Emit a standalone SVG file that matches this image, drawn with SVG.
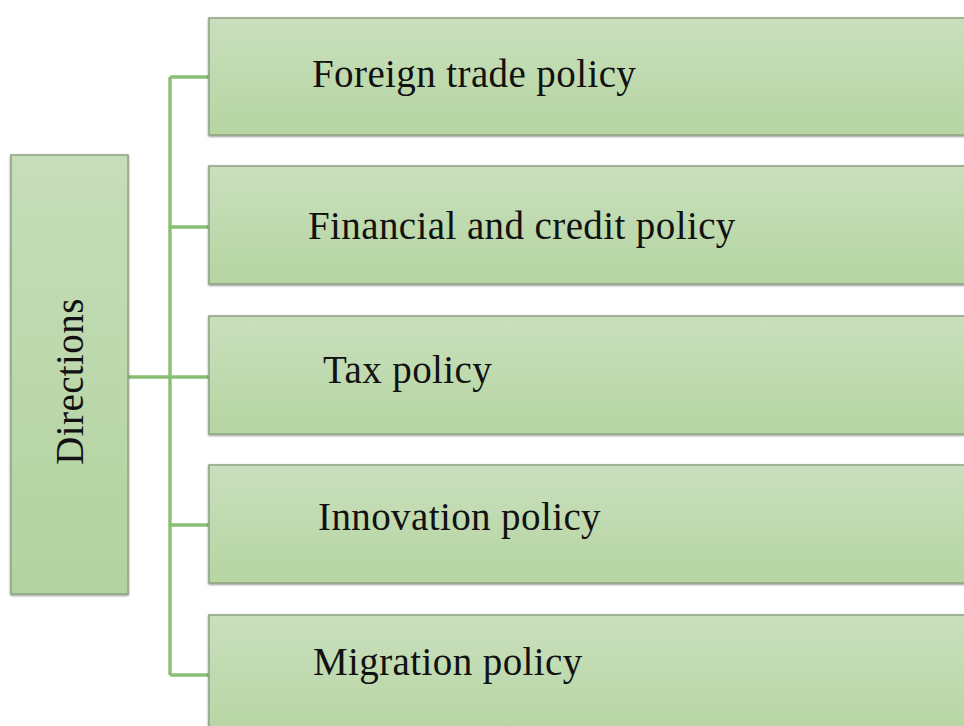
<svg xmlns="http://www.w3.org/2000/svg" width="964" height="726" viewBox="0 0 964 726">
  <defs>
    <linearGradient id="boxFill" x1="0" y1="0" x2="0" y2="1">
      <stop offset="0" stop-color="#c9dfbd"/>
      <stop offset="1" stop-color="#b5d5a1"/>
    </linearGradient>
    <linearGradient id="rootFill" x1="0" y1="0" x2="0" y2="1">
      <stop offset="0" stop-color="#c6ddb9"/>
      <stop offset="1" stop-color="#b2d39e"/>
    </linearGradient>
    <filter id="shade" x="-5%" y="-5%" width="110%" height="110%">
      <feGaussianBlur in="SourceAlpha" stdDeviation="1.2"/>
      <feOffset dx="0" dy="0.5" result="b"/>
      <feComponentTransfer><feFuncA type="linear" slope="0.45"/></feComponentTransfer>
      <feMerge><feMergeNode/><feMergeNode in="SourceGraphic"/></feMerge>
    </filter>
  </defs>
  <style>
    .box { fill: url(#boxFill); stroke: #8ea383; stroke-width: 1.5; filter: url(#shade); }
    .root { fill: url(#rootFill); stroke: #8ea383; stroke-width: 1.5; filter: url(#shade); }
    .label { font-family: "Liberation Serif", "Times New Roman", serif; font-size: 39px; letter-spacing: 0.4px; fill: #111; }
    .wire { fill: none; stroke: #88bf73; stroke-width: 3.4; }
  </style>
  <rect width="964" height="726" fill="#ffffff"/>

  <g id="connectors">
    <path class="wire" d="M128 377 H170"/>
    <path class="wire" d="M170 77 V675"/>
    <path class="wire" d="M170 77 H209"/>
    <path class="wire" d="M170 227 H209"/>
    <path class="wire" d="M170 377 H209"/>
    <path class="wire" d="M170 525 H209"/>
    <path class="wire" d="M170 675 H209"/>
  </g>

  <g id="directions">
    <rect class="root" x="11" y="155" width="117" height="439"/>
    <text class="label" transform="translate(83 381.5) rotate(-90)" text-anchor="middle">Directions</text>
  </g>

  <g id="foreign-trade">
    <rect class="box" x="209" y="18" width="770" height="117"/>
    <text class="label" x="312" y="87">Foreign trade policy</text>
  </g>

  <g id="financial-credit">
    <rect class="box" x="209" y="166" width="770" height="118"/>
    <text class="label" x="308" y="239">Financial and credit policy</text>
  </g>

  <g id="tax">
    <rect class="box" x="209" y="316" width="770" height="118"/>
    <text class="label" x="323" y="383">Tax policy</text>
  </g>

  <g id="innovation">
    <rect class="box" x="209" y="465" width="770" height="118"/>
    <text class="label" x="318" y="530">Innovation policy</text>
  </g>

  <g id="migration">
    <rect class="box" x="209" y="615" width="770" height="130"/>
    <text class="label" x="313" y="675">Migration policy</text>
  </g>
</svg>
